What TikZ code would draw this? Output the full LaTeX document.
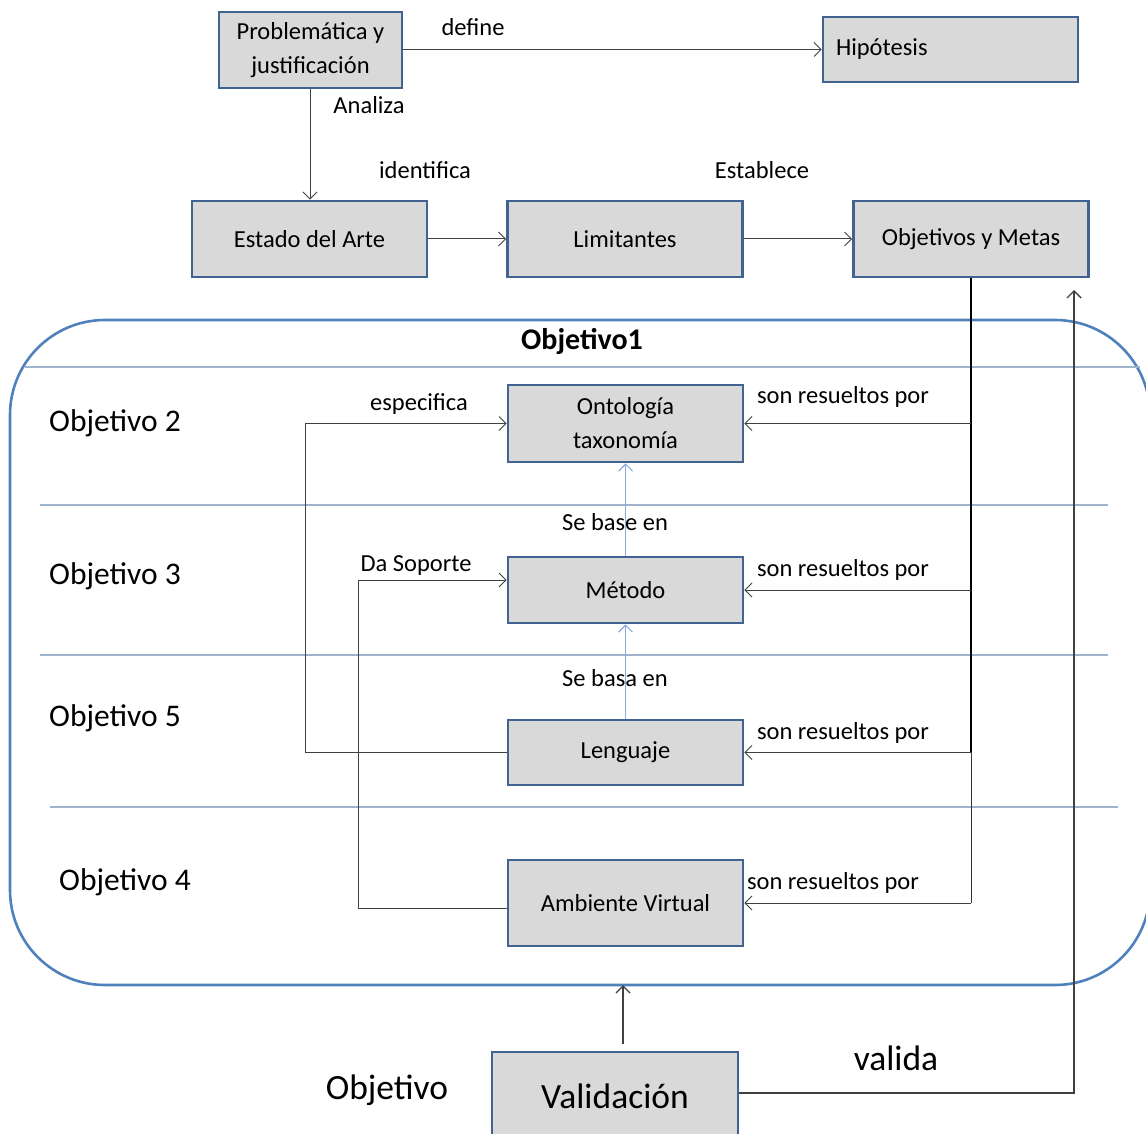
\documentclass[tikz,border=0pt]{standalone}
\usepackage{fontspec}
\setmainfont{Carlito}
\usetikzlibrary{arrows.meta}
\definecolor{boxborder}{HTML}{41638F}
\definecolor{boxfill}{HTML}{D9D9D9}
\definecolor{frameblue}{HTML}{4F81BD}
\definecolor{sepline}{HTML}{9DB3CE}
\definecolor{basearrow}{HTML}{8EAADB}
\tikzset{
  stepbox/.style={draw=boxborder, fill=boxfill, line width=2.6pt, minimum width=235pt, minimum height=76pt, inner sep=0pt, font=\fontsize{24.5}{34}\selectfont, align=center},
  lbl/.style={inner sep=0pt, font=\fontsize{24.5}{30}\selectfont},
  objlbl/.style={inner sep=0pt, font=\fontsize{31.5}{36}\selectfont},
  biglbl/.style={inner sep=0pt, font=\fontsize{35.5}{40}\selectfont},
  conn/.style={draw=black!75, line width=1pt, -{Straight Barb[length=7pt,width=14pt]}},
  blueconn/.style={draw=basearrow, line width=1.2pt, -{Straight Barb[length=7pt,width=14pt]}},
  sep/.style={draw=sepline, line width=1.6pt}
}
\begin{document}
\begin{tikzpicture}[x=1pt,y=-1pt]
\useasboundingbox (0,0) rectangle (1146,1134);
\clip (0,0) rectangle (1146,1134);
% frame
\draw[frameblue, line width=2.6pt, rounded corners=95pt] (10,320) rectangle (1150,985);
\draw[sep] (25,367) -- (1140,367);
\draw[sep] (40,505) -- (1108,505);
\draw[sep] (40,655) -- (1108,655);
\draw[sep] (50,807) -- (1118,807);
% top nodes
\node[stepbox, minimum width=183pt, minimum height=76pt] (prob) at (310.5,50) {Problemática y\\justificación};
\node[stepbox, minimum width=255pt, minimum height=65pt, text width=229pt, align=left] (hip) at (950.5,49.5) {Hipótesis};
\node[stepbox] (estado) at (309.5,239) {Estado del Arte};
\node[stepbox] (limit) at (625,239) {Limitantes};
\node[stepbox] (objm) at (971,239) {Objetivos y Metas};
% inner nodes
\node[stepbox, minimum height=77pt] (onto) at (625.5,423.5) {Ontología\\taxonomía};
\node[stepbox, minimum height=66pt] (metodo) at (625.5,590) {Método};
\node[stepbox, minimum height=65pt] (leng) at (625.5,752.5) {Lenguaje};
\node[stepbox, minimum height=86pt] (amb) at (625.5,903) {Ambiente Virtual};
\node[stepbox, minimum width=246pt, minimum height=88pt, font=\fontsize{35.5}{40}\selectfont] (valid) at (615,1096) {Validación};
% labels
\node[lbl] (ldefine) at (473,27) {define};
\node[lbl] (lanaliza) at (369,105) {Analiza};
\node[lbl] (lident) at (425,170) {identifica};
\node[lbl] (lestab) at (762,170) {Establece};
\node[font=\fontsize{30}{34}\selectfont\bfseries, inner sep=0pt] (lobj1) at (582,341) {Objetivo1};
\node[objlbl] (lo2) at (115,423) {Objetivo 2};
\node[objlbl] (lo3) at (115,576) {Objetivo 3};
\node[objlbl] (lo5) at (115,718) {Objetivo 5};
\node[objlbl] (lo4) at (125,882) {Objetivo 4};
\node[lbl] (lesp) at (419,404) {especifica};
\node[lbl] (lda) at (416,566) {Da Soporte};
\node[lbl] (lbase) at (615,522) {Se base en};
\node[lbl] (lbasa) at (615,678) {Se basa en};
\node[lbl] (lsr1) at (843,397) {son resueltos por};
\node[lbl] (lsr2) at (843,570) {son resueltos por};
\node[lbl] (lsr3) at (843,733) {son resueltos por};
\node[lbl] (lsr4) at (833,883) {son resueltos por};
\node[biglbl] (lvalida) at (896,1058) {valida};
\node[biglbl] (lobjetivo) at (387,1090) {Objetivo};
% coordinates
\coordinate (trunk) at (971,903);
\coordinate (vtop) at (1074,290);
\coordinate (frbot) at (623,985);
% top connectors
\draw[conn] (prob.east |- hip.west) -- (hip.west);
\draw[conn] (prob.south -| 310,0) -- (estado.north -| 310,0);
\draw[conn] (estado) -- (limit);
\draw[conn] (limit) -- (objm);
% trunk from objetivos y metas
\draw[black, line width=2pt] (objm.south) -- (971,752);
\draw[black!80, line width=1pt] (971,752) -- (trunk);
\draw[conn] (objm.south |- onto.east) -- (onto.east);
\draw[conn] (objm.south |- metodo.east) -- (metodo.east);
\draw[conn] (objm.south |- leng.east) -- (leng.east);
\draw[conn] (trunk) -- (amb.east);
% blue base arrows
\draw[blueconn] (metodo.north) -- (onto.south);
\draw[blueconn] (leng.north) -- (metodo.south);
% especifica
\draw[conn] (leng.west) -- (305,752.5) -- (305,423.5) -- (onto.west);
% da soporte
\draw[conn] (amb.west |- 0,908) -- (358,908) -- (358,580) -- (metodo.west |- 0,580);
% validation
\draw[conn, line width=1.4pt] (valid.north -| frbot) ++(0,-7) -- (frbot);
\draw[conn, line width=1.4pt] (valid.east |- 0,1093) -- (1074,1093) -- (vtop);
\end{tikzpicture}
\end{document}
